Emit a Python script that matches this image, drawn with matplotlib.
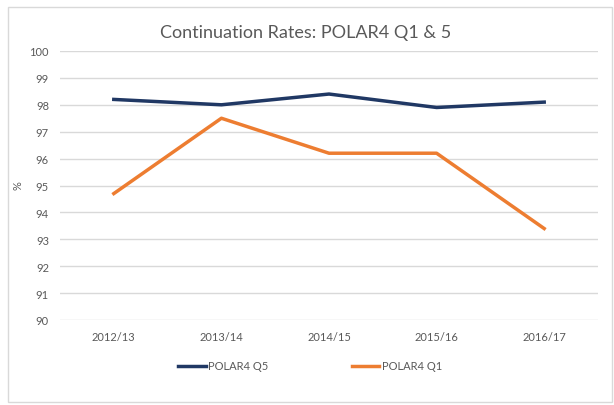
import numpy as np
import matplotlib.pyplot as plt
from matplotlib.patches import Rectangle

# Données
years = ["2012/13", "2013/14", "2014/15", "2015/16", "2016/17"]
q5 = [98.2, 98.0, 98.4, 97.9, 98.1]
q1 = [94.7, 97.5, 96.2, 96.2, 93.4]
yticks = list(range(90, 101))

plt.rcParams['font.family'] = ['Lato', 'DejaVu Sans']
grey = '#595959'

fig = plt.figure(figsize=(6.14, 4.06), dpi=100)
# cadre extérieur
fig.patches.append(Rectangle((8/614, 3/406), 604/614, 395/406, transform=fig.transFigure,
                             fill=False, edgecolor='#d9d9d9', linewidth=1))

ax = fig.add_axes([60/614, 1 - 321/406, 538/614, 269/406])
x = np.arange(len(years))
ax.plot(x, q5, color='#203864', linewidth=2.5, label="POLAR4 Q5")
ax.plot(x, q1, color='#ED7D31', linewidth=2.5, label="POLAR4 Q1")

ax.set_xlim(-0.5, len(years) - 0.5)
ax.set_ylim(90, 100)
ax.set_yticks(yticks)
ax.set_xticks(x)
ax.set_xticklabels(years)
ax.grid(axis='y', color='#d9d9d9', linewidth=1)
ax.set_axisbelow(True)
for s in ax.spines.values():
    s.set_visible(False)
ax.tick_params(length=0, labelsize=8, colors=grey, pad=8)

# étiquette de l'axe y
fig.text(18/614, 1 - 186/406, "%", rotation=90, ha='center', va='center', color=grey, fontsize=8)

fig.text(306/614, 1 - 33/406, "Continuation Rates: POLAR4 Q1 & 5", ha='center', va='center',
         fontsize=13, color=grey)

fig.legend(loc='center', bbox_to_anchor=(310/614, 1 - 367/406), ncol=2, frameon=False,
           fontsize=8, labelcolor=grey, handlelength=2.5, handletextpad=0.2, columnspacing=7.5)

fig.savefig("out.png", dpi=100)
